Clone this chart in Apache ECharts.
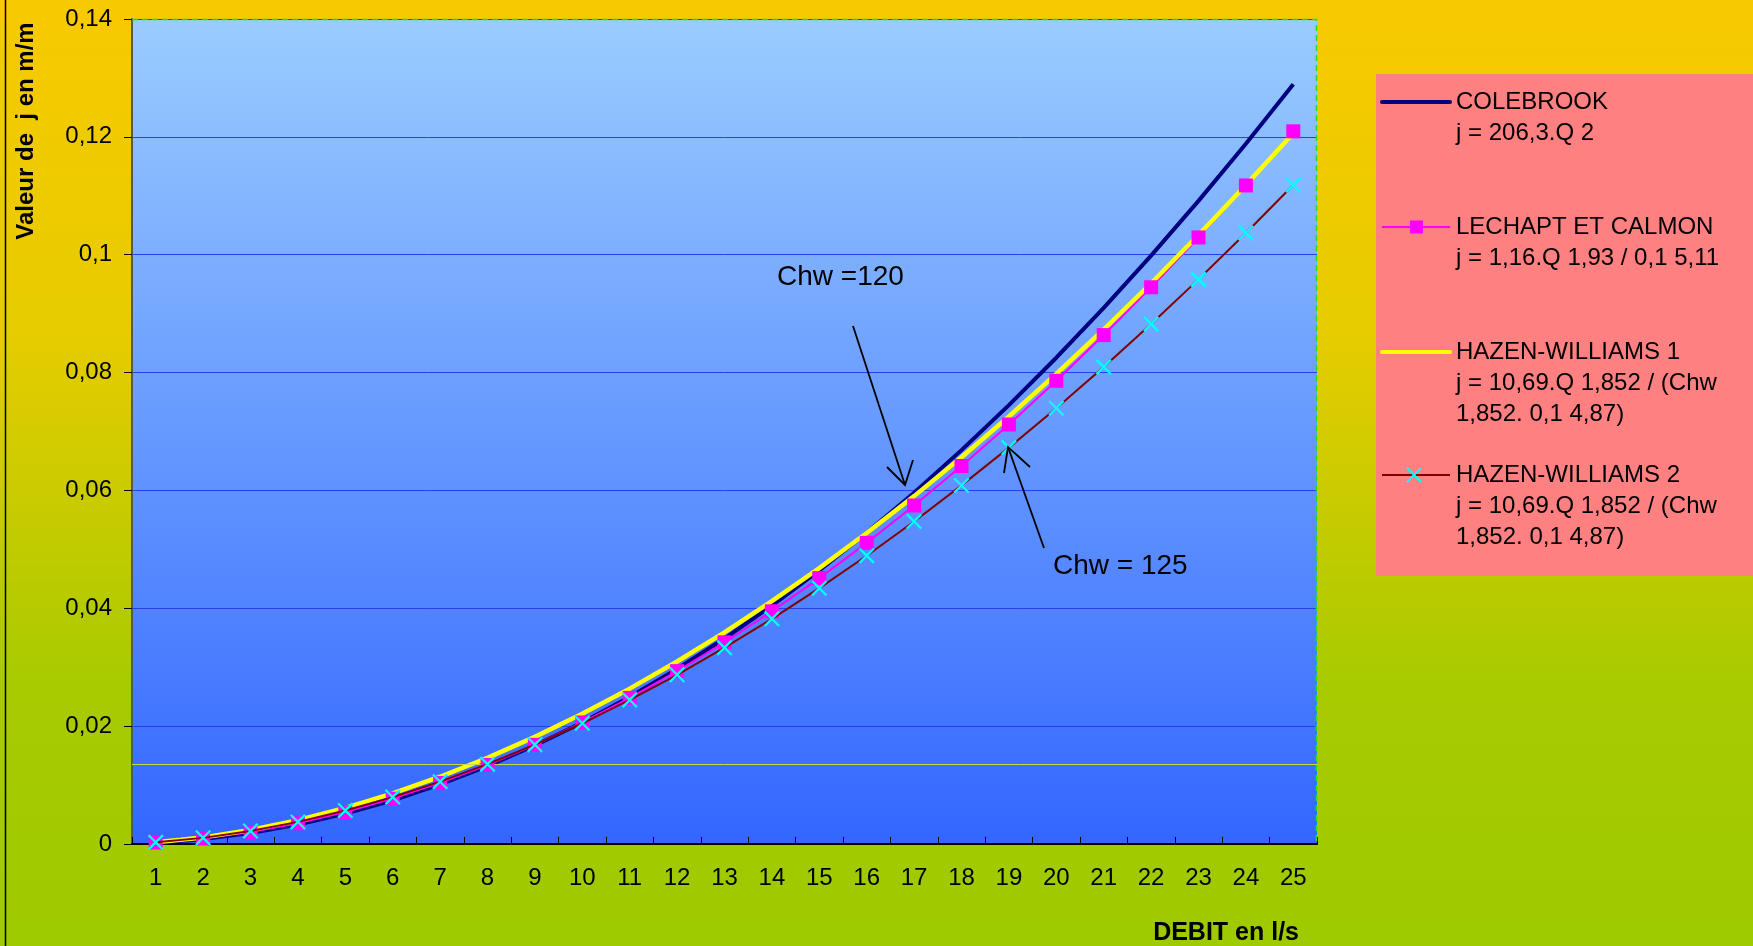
<!DOCTYPE html>
<html>
<head>
<meta charset="utf-8">
<title>Pertes de charge</title>
<script src="https://cdn.jsdelivr.net/npm/echarts@6/dist/echarts.min.js"></script>
<style>
  html, body { margin: 0; padding: 0; background: #fff; }
  #chart { width: 1753px; height: 946px; }
</style>
</head>
<body>
<div id="chart"></div>
<script>
// Débit (l/s)
const debits = ['1','2','3','4','5','6','7','8','9','10','11','12','13','14','15','16','17','18','19','20','21','22','23','24','25'];

// Perte de charge j (m/m) pour chaque formule
const colebrook = [0.000206, 0.000825, 0.001857, 0.003301, 0.005158, 0.007427, 0.010109, 0.013203, 0.016710, 0.020630,
  0.024962, 0.029707, 0.034865, 0.040435, 0.046418, 0.052813, 0.059621, 0.066841, 0.074474, 0.082520,
  0.090978, 0.099849, 0.109133, 0.118829, 0.128938];
const lechaptCalmon = [0.000242, 0.000924, 0.002020, 0.003519, 0.005414, 0.007697, 0.010366, 0.013410, 0.016832, 0.020628,
  0.024794, 0.029331, 0.034227, 0.039493, 0.045118, 0.051101, 0.057444, 0.064146, 0.071189, 0.078605,
  0.086363, 0.094471, 0.102932, 0.111752, 0.120938];
const hazenWilliams1 = [0.000311, 0.001122, 0.002377, 0.004049, 0.006121, 0.008580, 0.011415, 0.014617, 0.018181, 0.022096,
  0.026362, 0.030973, 0.035925, 0.041207, 0.046821, 0.052765, 0.059034, 0.065633, 0.072546, 0.079766,
  0.087310, 0.095160, 0.103338, 0.111824, 0.120601];
const hazenWilliams2 = [0.000288, 0.001040, 0.002204, 0.003754, 0.005675, 0.007955, 0.010584, 0.013553, 0.016858, 0.020487,
  0.024443, 0.028718, 0.033310, 0.038207, 0.043412, 0.048923, 0.054736, 0.060855, 0.067264, 0.073959,
  0.080953, 0.088233, 0.095815, 0.103682, 0.111821];

// Graduations de l'axe vertical
const yTickLabels = ['0', '0,02', '0,04', '0,06', '0,08', '0,1', '0,12', '0,14'];
const yStep = 0.02;

// Ligne de repère horizontale
const referenceLevel = 0.0136;

// Libellés
const seriesNames = ['COLEBROOK', 'LECHAPT ET CALMON', 'HAZEN-WILLIAMS 1', 'HAZEN-WILLIAMS 2'];
const formulas = [
  ['j = 206,3.Q 2'],
  ['j = 1,16.Q 1,93 / 0,1 5,11'],
  ['j = 10,69.Q 1,852 / (Chw', '1,852. 0,1 4,87)'],
  ['j = 10,69.Q 1,852 / (Chw', '1,852. 0,1 4,87)']
];
const yAxisTitle = 'Valeur de  j en m/m';
const xAxisTitle = 'DEBIT en l/s';
const notes = ['Chw =120', 'Chw = 125'];

// Styles
const FONT = '"Liberation Sans", Arial, sans-serif';
const C_NAVY = '#000080', C_PINK = '#FF00FF', C_YELLOW = '#FFFF00', C_RED = '#800000', C_CYAN = '#00FFFF';
const CROSS = 'path://M0,1L1,0L5,4L9,0L10,1L6,5L10,9L9,10L5,6L1,10L0,9L4,5Z';

const chart = echarts.init(document.getElementById('chart'), null, { renderer: 'canvas' });

// Légende dessinée à la main (icônes alignées sur la première ligne de texte)
const legendX = 1382, legendIconW = 68, legendTextX = 1456;
const legendRows = [102, 227, 352, 475];
const legendLineGap = 31;
const legendGraphics = [
  { type: 'rect', z: 1, shape: { x: 1376, y: 74, width: 377, height: 502 }, style: { fill: '#FF8080' } },
  { type: 'line', z: 2, shape: { x1: legendX, y1: legendRows[0], x2: legendX + legendIconW, y2: legendRows[0] }, style: { stroke: C_NAVY, lineWidth: 4, lineCap: 'round' } },
  { type: 'line', z: 2, shape: { x1: legendX, y1: legendRows[1], x2: legendX + legendIconW, y2: legendRows[1] }, style: { stroke: C_PINK, lineWidth: 2 } },
  { type: 'rect', z: 3, shape: { x: legendX + 28, y: legendRows[1] - 6.5, width: 13, height: 13 }, style: { fill: C_PINK } },
  { type: 'line', z: 2, shape: { x1: legendX, y1: legendRows[2], x2: legendX + legendIconW, y2: legendRows[2] }, style: { stroke: C_YELLOW, lineWidth: 4, lineCap: 'round' } },
  { type: 'line', z: 2, shape: { x1: legendX, y1: legendRows[3], x2: legendX + legendIconW, y2: legendRows[3] }, style: { stroke: C_RED, lineWidth: 2 } },
  { type: 'polyline', z: 3, shape: { points: [[legendX + 25, legendRows[3] - 7], [legendX + 39, legendRows[3] + 7]] }, style: { stroke: C_CYAN, lineWidth: 2 } },
  { type: 'polyline', z: 3, shape: { points: [[legendX + 39, legendRows[3] - 7], [legendX + 25, legendRows[3] + 7]] }, style: { stroke: C_CYAN, lineWidth: 2 } }
];
seriesNames.forEach((name, i) => {
  const lines = [name].concat(formulas[i]);
  lines.forEach((t, k) => {
    legendGraphics.push({
      type: 'text', z: 3,
      style: { x: legendTextX, y: legendRows[i] + k * legendLineGap, text: t, fill: '#000', font: '24px ' + FONT, verticalAlign: 'middle', align: 'left' }
    });
  });
});

// Annotations avec flèches
const arrowStyle = { stroke: '#000', lineWidth: 1.8, fill: null };
const annotationGraphics = [
  { type: 'text', z: 10, style: { x: 777, y: 277, text: notes[0], fill: '#000', font: '28px ' + FONT, verticalAlign: 'middle' } },
  { type: 'line', z: 10, shape: { x1: 853, y1: 326, x2: 905, y2: 485 }, style: arrowStyle },
  { type: 'polyline', z: 10, shape: { points: [[887, 467], [905, 485], [913, 460]] }, style: arrowStyle },
  { type: 'text', z: 10, style: { x: 1053, y: 566, text: notes[1], fill: '#000', font: '28px ' + FONT, verticalAlign: 'middle' } },
  { type: 'line', z: 10, shape: { x1: 1044, y1: 548, x2: 1008, y2: 447 }, style: arrowStyle },
  { type: 'polyline', z: 10, shape: { points: [[1004, 473], [1008, 447], [1030, 467]] }, style: arrowStyle }
];

const frameGraphics = [
  // fond général
  { type: 'rect', z: -10, silent: true, shape: { x: 0, y: 0, width: 1753, height: 946 },
    style: { fill: new echarts.graphic.LinearGradient(0, 0, 0, 1, [
      { offset: 0, color: '#F8C900' }, { offset: 0.35, color: '#E6CC00' },
      { offset: 0.72, color: '#A8CB00' }, { offset: 1, color: '#9ECA00' }]) } },
  { type: 'line', z: 5, shape: { x1: 5.5, y1: 0, x2: 5.5, y2: 946 }, style: { stroke: '#000', lineWidth: 1.5 } },
  // bord pointillé haut et droit de la zone de tracé
  { type: 'polyline', z: 20, shape: { points: [[132, 19.5], [1316.5, 19.5], [1316.5, 844]] }, style: { stroke: '#22DD22', lineWidth: 1.5, lineDash: [6, 4], fill: null } },
  { type: 'text', z: 10, x: 26, y: 131, rotation: Math.PI / 2,
    style: { x: 0, y: 0, text: yAxisTitle, fill: '#000', font: 'bold 24px ' + FONT, align: 'center', verticalAlign: 'middle' } },
  { type: 'text', z: 10, style: { x: 1299, y: 933, text: xAxisTitle, fill: '#000', font: 'bold 25px ' + FONT, align: 'right', verticalAlign: 'middle' } }
];

const option = {
  animation: false,
  grid: {
    left: 132, right: 436, top: 19, bottom: 102,
    show: true, borderWidth: 0,
    backgroundColor: new echarts.graphic.LinearGradient(0, 0, 0, 1, [
      { offset: 0, color: '#9ACCFF' }, { offset: 1, color: '#3366FF' }])
  },
  xAxis: {
    type: 'category',
    data: debits,
    boundaryGap: true,
    axisLine: { lineStyle: { color: '#000', width: 2 } },
    axisTick: { show: true, inside: true, length: 7, lineStyle: { color: '#000', width: 1 } },
    axisLabel: { color: '#000', fontSize: 24, fontFamily: FONT, margin: 22, interval: 0 },
    splitLine: { show: false }
  },
  yAxis: {
    type: 'value',
    min: 0, max: 0.14, interval: yStep,
    axisLine: { show: true, lineStyle: { color: '#4D5E4A', width: 2 } },
    axisTick: { show: true, inside: false, length: 8, lineStyle: { color: '#000', width: 1 } },
    axisLabel: {
      color: '#000', fontSize: 24, fontFamily: FONT, margin: 20,
      formatter: v => yTickLabels[Math.round(v / yStep)]
    },
    splitLine: { show: true, lineStyle: { color: '#2B3BF0', width: 1 } }
  },
  series: [
    {
      name: seriesNames[0], type: 'line', data: colebrook, z: 2,
      symbol: 'none', lineStyle: { color: C_NAVY, width: 4 }, itemStyle: { color: C_NAVY },
      markLine: {
        silent: true, symbol: 'none', precision: 4, label: { show: false },
        lineStyle: { color: '#C8DA3A', type: 'solid', width: 1 },
        data: [{ yAxis: referenceLevel }]
      }
    },
    {
      name: seriesNames[1], type: 'line', data: lechaptCalmon, z: 3,
      symbol: 'none', lineStyle: { color: C_PINK, width: 2 }, itemStyle: { color: C_PINK }
    },
    {
      name: seriesNames[2], type: 'line', data: hazenWilliams1, z: 4,
      symbol: 'none', lineStyle: { color: C_YELLOW, width: 4.5 }, itemStyle: { color: C_YELLOW }
    },
    {
      // marqueurs carrés de LECHAPT ET CALMON, au-dessus du tracé jaune
      id: 'lechapt-markers', type: 'scatter', data: lechaptCalmon, z: 5,
      symbol: 'rect', symbolSize: 14, itemStyle: { color: C_PINK, opacity: 1 }
    },
    {
      name: seriesNames[3], type: 'line', data: hazenWilliams2, z: 6,
      symbol: CROSS, symbolSize: 16, showSymbol: true,
      lineStyle: { color: C_RED, width: 2 }, itemStyle: { color: C_CYAN }
    }
  ],
  graphic: frameGraphics.concat(legendGraphics, annotationGraphics)
};

chart.setOption(option);
</script>
</body>
</html>
